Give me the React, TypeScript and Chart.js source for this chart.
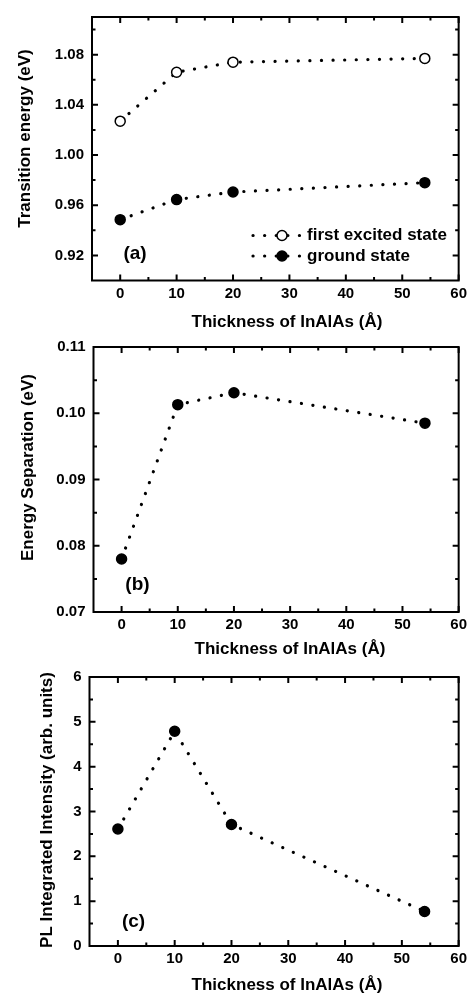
import React, { useEffect, useRef } from "react";
import { Chart, registerables } from "chart.js";

Chart.register(...registerables);

// ---------- data ----------
const thickness = [0, 10, 20, 54];
const excitedState = [1.027, 1.066, 1.074, 1.077];
const groundState = [0.9485, 0.9645, 0.9705, 0.978];
const energySeparation = [0.078, 0.1013, 0.1031, 0.0985];
const plIntensity = [2.61, 4.79, 2.71, 0.77];

const xTicks = [0, 10, 20, 30, 40, 50, 60];
const xMinorTicks = [5, 15, 25, 35, 45, 55];
const aTicks = [0.92, 0.96, 1.0, 1.04, 1.08];
const aMinorTicks = [0.94, 0.98, 1.02, 1.06, 1.1];
const bTicks = [0.07, 0.08, 0.09, 0.1, 0.11];
const bMinorTicks = [0.075, 0.085, 0.095, 0.105];
const cTicks = [0, 1, 2, 3, 4, 5, 6];
const cMinorTicks = [0.5, 1.5, 2.5, 3.5, 4.5, 5.5];

const xTitle = "Thickness of InAlAs (Å)";
const seriesNames = ["first excited state", "ground state"];

// ---------- styling ----------
const FONT = "'Liberation Sans', Arial, Helvetica, sans-serif";
const W = 471;
const DOTS = [0.1, 11.5];

const toXY = (ys: number[]) => thickness.map((x, i) => ({ x, y: ys[i] }));

const lineStyle = {
  borderColor: "#000",
  borderWidth: 3.2,
  borderDash: DOTS,
  borderCapStyle: "round" as const,
  tension: 0,
  pointBorderColor: "#000",
  pointRadius: 5,
  pointBorderWidth: 1.5,
};

// frame + inward ticks on all four sides
const framePlugin = {
  id: "frame",
  afterDatasetsDraw(chart: any, _a: any, opts: any) {
    const { ctx, chartArea } = chart;
    const { left, right, top, bottom } = chartArea;
    const xs = chart.scales.x;
    const ys = chart.scales.y;
    ctx.save();
    ctx.strokeStyle = "#000";
    ctx.lineWidth = 2;
    ctx.beginPath();
    const seg = (x1: number, y1: number, x2: number, y2: number) => {
      ctx.moveTo(x1, y1);
      ctx.lineTo(x2, y2);
    };
    const major = 6;
    const minor = 3.5;
    (opts.xMajor || []).forEach((v: number) => {
      const p = xs.getPixelForValue(v);
      seg(p, bottom, p, bottom - major);
      seg(p, top, p, top + major);
    });
    (opts.xMinor || []).forEach((v: number) => {
      const p = xs.getPixelForValue(v);
      seg(p, bottom, p, bottom - minor);
      seg(p, top, p, top + minor);
    });
    (opts.yMajor || []).forEach((v: number) => {
      const p = ys.getPixelForValue(v);
      seg(left, p, left + major, p);
      seg(right, p, right - major, p);
    });
    (opts.yMinor || []).forEach((v: number) => {
      const p = ys.getPixelForValue(v);
      seg(left, p, left + minor, p);
      seg(right, p, right - minor, p);
    });
    ctx.stroke();
    ctx.lineWidth = 2;
    ctx.strokeRect(left, top, right - left, bottom - top);
    ctx.restore();
  },
};

// titles and panel tags
const textPlugin = {
  id: "panelText",
  afterDraw(chart: any, _a: any, opts: any) {
    const ctx = chart.ctx;
    ctx.save();
    ctx.fillStyle = "#000";
    ctx.textAlign = "center";
    ctx.textBaseline = "middle";
    (opts.items || []).forEach((t: any) => {
      ctx.save();
      ctx.font = t.font;
      ctx.translate(t.x, t.y);
      if (t.rotate) ctx.rotate(t.rotate);
      ctx.fillText(t.text, 0, 0);
      ctx.restore();
    });
    ctx.restore();
  },
};

// legend drawn inside the plot area
const insideLegendPlugin = {
  id: "insideLegend",
  afterDraw(chart: any, _a: any, opts: any) {
    if (!opts || !opts.rows) return;
    const ctx = chart.ctx;
    ctx.save();
    chart.data.datasets.forEach((ds: any, i: number) => {
      const y = opts.rows[i];
      ctx.strokeStyle = ds.borderColor;
      ctx.lineWidth = ds.borderWidth;
      ctx.lineCap = "round";
      ctx.setLineDash(ds.borderDash);
      ctx.beginPath();
      ctx.moveTo(opts.x1, y);
      ctx.lineTo(opts.x2, y);
      ctx.stroke();
      ctx.setLineDash([]);
      ctx.beginPath();
      ctx.arc(opts.mx, y, ds.pointRadius, 0, Math.PI * 2);
      ctx.fillStyle = ds.pointBackgroundColor;
      ctx.fill();
      ctx.lineWidth = ds.pointBorderWidth;
      ctx.strokeStyle = ds.pointBorderColor;
      ctx.stroke();
      ctx.fillStyle = "#000";
      ctx.font = opts.font;
      ctx.textAlign = "left";
      ctx.textBaseline = "middle";
      ctx.fillText(ds.label, opts.tx, y);
    });
    ctx.restore();
  },
};

type Panel = {
  top: number;
  height: number;
  area: { left: number; right: number; top: number; bottom: number };
  yMin: number;
  yMax: number;
  yTicks: number[];
  yMinor: number[];
  decimals: number;
  datasets: any[];
  yTitle: string;
  yTitlePos: [number, number];
  xTitlePos: [number, number];
  tag: string;
  tagPos: [number, number];
  legend?: any;
};

const panels: Panel[] = [
  {
    top: 0,
    height: 330,
    area: { left: 92, right: 459, top: 9, bottom: 280.5 },
    yMin: 0.9,
    yMax: 1.11,
    yTicks: aTicks,
    yMinor: aMinorTicks,
    decimals: 2,
    datasets: [
      { ...lineStyle, label: seriesNames[0], data: toXY(excitedState), pointBackgroundColor: "#fff" },
      { ...lineStyle, label: seriesNames[1], data: toXY(groundState), pointBackgroundColor: "#000" },
    ],
    yTitle: "Transition energy (eV)",
    yTitlePos: [25, 138.5],
    xTitlePos: [287, 322],
    tag: "(a)",
    tagPos: [135, 254],
    legend: { rows: [235.5, 256], x1: 253, x2: 305, mx: 282, tx: 307, font: `bold 17px ${FONT}` },
  },
  {
    top: 330,
    height: 330,
    area: { left: 93.5, right: 459, top: 12.5, bottom: 282 },
    yMin: 0.07,
    yMax: 0.11,
    yTicks: bTicks,
    yMinor: bMinorTicks,
    decimals: 2,
    datasets: [{ ...lineStyle, label: "separation", data: toXY(energySeparation), pointBackgroundColor: "#000" }],
    yTitle: "Energy Separation (eV)",
    yTitlePos: [28.5, 137.5],
    xTitlePos: [290, 319],
    tag: "(b)",
    tagPos: [137.5, 255],
  },
  {
    top: 660,
    height: 333,
    area: { left: 89.5, right: 459, top: 15, bottom: 286 },
    yMin: 0,
    yMax: 6,
    yTicks: cTicks,
    yMinor: cMinorTicks,
    decimals: 0,
    datasets: [{ ...lineStyle, label: "PL", data: toXY(plIntensity), pointBackgroundColor: "#000" }],
    yTitle: "PL Integrated Intensity (arb. units)",
    yTitlePos: [47, 150],
    xTitlePos: [287, 325],
    tag: "(c)",
    tagPos: [133.5, 261.5],
  },
];

function PanelChart({ p }: { p: Panel }) {
  const ref = useRef<HTMLCanvasElement | null>(null);
  useEffect(() => {
    if (!ref.current) return;
    const tickFont = { family: FONT, size: 15, weight: "bold" as const };
    const titleFont = `bold 17px ${FONT}`;
    const chart = new Chart(ref.current, {
      type: "line",
      data: { datasets: p.datasets },
      plugins: [framePlugin, textPlugin, insideLegendPlugin],
      options: {
        animation: false,
        responsive: false,
        maintainAspectRatio: false,
        events: [],
        layout: { padding: { left: 0, top: p.area.top, right: W - p.area.right, bottom: 0 } },
        plugins: {
          legend: { display: false },
          tooltip: { enabled: false },
          frame: { xMajor: xTicks, xMinor: xMinorTicks, yMajor: p.yTicks, yMinor: p.yMinor },
          panelText: {
            items: [
              { text: xTitle, x: p.xTitlePos[0], y: p.xTitlePos[1], font: titleFont },
              { text: p.yTitle, x: p.yTitlePos[0], y: p.yTitlePos[1], font: titleFont, rotate: -Math.PI / 2 },
              { text: p.tag, x: p.tagPos[0], y: p.tagPos[1], font: `bold 19px ${FONT}` },
            ],
          },
          insideLegend: p.legend || {},
        } as any,
        scales: {
          x: {
            type: "linear",
            min: -5,
            max: 60,
            grid: { display: false, drawTicks: false },
            border: { display: false },
            afterBuildTicks: (s: any) => {
              s.ticks = xTicks.map((v) => ({ value: v }));
            },
            afterFit: (s: any) => {
              s.height = p.height - p.area.bottom;
            },
            ticks: {
              font: tickFont,
              color: "#000",
              padding: 4,
              maxRotation: 0,
              autoSkip: false,
              callback: (v: any) => String(v),
            },
          },
          y: {
            type: "linear",
            min: p.yMin,
            max: p.yMax,
            grid: { display: false, drawTicks: false },
            border: { display: false },
            afterBuildTicks: (s: any) => {
              s.ticks = p.yTicks.map((v) => ({ value: v }));
            },
            afterFit: (s: any) => {
              s.width = p.area.left;
            },
            ticks: {
              font: tickFont,
              color: "#000",
              padding: 8,
              autoSkip: false,
              callback: (v: any) => Number(v).toFixed(p.decimals),
            },
          },
        },
      },
    });
    return () => chart.destroy();
  }, [p]);
  return (
    <canvas
      ref={ref}
      width={W}
      height={p.height}
      style={{ position: "absolute", left: 0, top: p.top, width: W, height: p.height }}
    />
  );
}

export default function App() {
  return (
    <div style={{ position: "absolute", left: 0, top: 0, width: W, height: 993, background: "#fff" }}>
      {panels.map((p, i) => (
        <PanelChart key={i} p={p} />
      ))}
    </div>
  );
}
